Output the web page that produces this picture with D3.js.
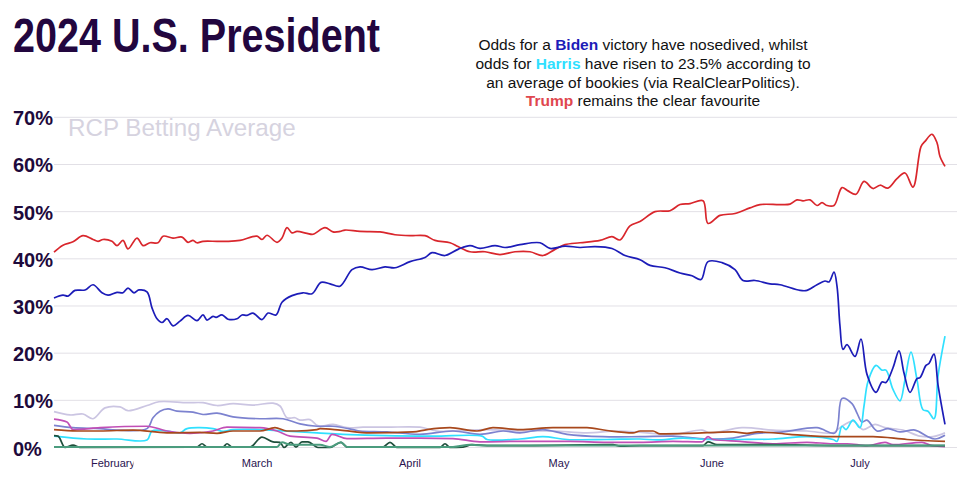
<!DOCTYPE html>
<html>
<head>
<meta charset="utf-8">
<script src="https://d3js.org/d3.v7.min.js"></script>
<style>
  html, body { margin: 0; padding: 0; background: #fff; overflow: hidden; }
</style>
</head>
<body>
<div id="chart"></div>
<script>
// tick labels
var yTicks = [0, 10, 20, 30, 40, 50, 60, 70];
var monthNames = ["February", "March", "April", "May", "June", "July"];
var monthDays = [11.8, 40.6, 71.2, 101, 131.6, 161.2];

// each series is [day, percent]
var trump = [[0,41.4],[1.8,42.9],[3.8,43.6],[5.8,44.9],[7.8,44.1],[8.8,43.7],[9.8,44.1],[11.6,43.7],[12.6,42.8],[13.8,43.9],[14.8,42.1],[16.6,44.4],[17.8,42.8],[19.2,43.4],[20.8,43.4],[21.8,44.8],[23.8,44.4],[25.6,44.6],[26.8,43.5],[27.8,43.9],[28.6,43.4],[29.8,43.7],[32.6,43.7],[34.6,43.7],[37.2,43.9],[40.6,44.8],[41.6,44.1],[42.6,45],[44.6,43.5],[45.6,44.4],[46.6,46.6],[47.6,45.5],[48.6,45.8],[50.6,45.4],[51.8,45.2],[54.2,46.6],[55.8,45.7],[57.2,45.8],[58.2,46.1],[61.2,45.8],[65.2,45.7],[68.2,45.1],[71.2,44.9],[74.2,44.9],[76.2,43.9],[79.2,43.4],[80.8,42.6],[83.2,41.5],[86.2,41.5],[89.2,40.9],[92.2,41.5],[95.2,41.5],[97.8,40.7],[100.2,42],[102.2,43],[105.2,43.4],[109.2,43.9],[111.6,44.7],[113.2,44],[115.2,47],[117.2,47.9],[120.2,50],[123.2,50.2],[125.2,51.5],[127.2,51.7],[129.8,52.3],[130.8,47.5],[133.2,49.2],[136.2,49.6],[139.2,50.8],[141.2,51.5],[145.2,51.5],[147.2,51.6],[148.6,52.5],[149.8,52.3],[151.2,52.5],[152.6,51.3],[153.6,51.9],[154.6,51.3],[156,51.3],[157.6,55.1],[158.8,54.4],[160.4,53.7],[162,56.4],[163.8,54.9],[165.2,55.6],[166.8,55],[168.6,57],[170.2,58.2],[171.8,55.2],[173.4,63.8],[174.2,64.9],[175.6,66.4],[176.6,64.6],[177.2,61.7],[178.2,59.6]];

var biden = [[0,31.7],[1.8,32.3],[2.8,32.1],[4.2,33.3],[6.2,33.4],[7.8,34.5],[9.6,32.8],[10.8,32.3],[12.6,32.9],[13.8,32.8],[14.8,33.8],[16,32.8],[17,33.4],[18.6,33],[19.6,29.6],[20.6,27.3],[21.6,26.5],[22.6,27.3],[23.8,25.8],[25.2,26.8],[26.8,28],[28.6,26.9],[29.8,28.1],[30.6,27],[31.8,27.8],[32.4,27.6],[33.6,28.1],[34.8,27.2],[36.6,27.3],[37.6,28.1],[38.6,28],[39.8,28.5],[41.6,27.1],[42.8,28.5],[44.4,28.1],[45.6,30.8],[47.6,32.2],[49.8,32.8],[51.6,32.6],[53.4,35],[55.2,34.7],[57.2,34.2],[59.6,37.7],[61.2,38.3],[63.6,37.7],[66.2,38.3],[68.2,38.1],[71.2,39.4],[74.2,40.3],[75.6,41.3],[78.2,40.7],[80.8,42],[83.2,42.8],[85.2,42.2],[88.2,42.8],[90.2,42.4],[93.2,43],[97.2,43.4],[99.2,42.2],[102.2,42.7],[105.2,42.4],[108.2,42.6],[111.6,42.2],[114.2,40.7],[117.2,39.8],[119.2,38.6],[122.2,38.1],[125.2,37],[127.6,36.4],[129.4,35.6],[130.8,39.4],[133.6,39.2],[136.2,37.7],[137.8,35.4],[140.2,35.4],[143.2,34.7],[145.2,34.5],[149.2,33.3],[150.6,33.3],[152.6,34.5],[154.2,35.3],[155,35.1],[156,37.2],[156.6,34.2],[157.2,25.7],[157.8,20.8],[158.6,21.8],[160.2,19.3],[161.4,23],[162.6,15.5],[164.4,11.7],[165.6,13.9],[166.4,13.8],[167.8,16.9],[169,20.5],[170,15.8],[171.2,11.7],[172.6,14.6],[173.2,14.8],[174.4,17.4],[175,17.8],[176,19.8],[176.8,13.3],[178.2,4.9]];

var harris = [[0,2.4],[6.6,1.8],[12.6,1.8],[18.6,1.6],[19.6,3.5],[22.6,3.5],[25.2,3.1],[26.6,4],[31.8,4],[33.8,3.4],[35.8,3.8],[41.2,3.8],[45.8,3.5],[52.6,3.1],[57.8,2.8],[66.6,2.5],[75.8,2.4],[85.6,2.4],[86.6,1.7],[93.2,1.8],[97.8,2.3],[102.6,1.7],[110.6,1.7],[117.2,1.8],[120.6,1.6],[125.8,2],[130.6,1.7],[137.2,1.7],[143.8,1.8],[150.6,2.3],[155.8,1.7],[156.6,1.3],[157.6,4.5],[158.4,3.8],[159.8,5.8],[161.2,4.2],[162,8.8],[162.8,14],[164.4,17.4],[165.6,16.4],[166.4,16.4],[167.8,12.3],[169.2,9.9],[170.2,14.4],[171.4,20.2],[172.6,14.4],[173.8,8],[174.8,7.7],[176,6.1],[176.8,15.1],[178.2,23.6]];

var lilac = [[0,7.6],[3.2,6.9],[5.8,7.1],[7.8,6.1],[10.2,8.4],[13.2,8.6],[14.8,7.8],[18.6,8.9],[21,9.7],[26.6,9.5],[29.8,9.5],[32.6,8.9],[35.8,9.3],[39.8,9],[43.8,9.4],[45.2,8.8],[46.6,6.3],[48.2,6.3],[49.2,5.8],[51.2,5.9],[52.6,4.7],[53.2,4.5],[55.8,4.9],[58.6,4.2],[61.8,4.3],[66.6,4.3],[73.2,4.3],[76.6,3.5],[86.6,3.8],[93.2,3.5],[99.8,3.5],[106.6,3.1],[113.2,3.5],[123.8,2.8],[129.6,3.7],[131.2,3.1],[137.6,4.2],[143.8,3.7],[150.6,3.5],[155.8,3.1],[157.2,4.2],[159.8,5.6],[161.8,3.8],[164.2,4.9],[166.2,4.2],[169.8,3.7],[173.2,2.4],[175.8,2.3],[178.2,3.1]];

var periwinkle = [[0,4.7],[3.8,4.2],[9.2,4],[12.6,3.7],[18.6,4],[19.8,6.3],[21.2,7.7],[22.8,8.2],[24.6,7.7],[27.8,7.5],[29.8,7],[32.6,7.3],[35.8,6.5],[41.2,6.1],[45.8,6.1],[49.2,5],[52.6,4.5],[55.8,4.5],[59.8,3.8],[61.2,3.5],[66.6,3.3],[73.2,2.8],[79.8,3.5],[85.2,2.8],[89.8,3.5],[93.2,3.1],[97.8,3.8],[102.6,2.8],[109.8,2.3],[117.2,2.3],[123.8,2.4],[130.6,1.8],[135.8,2],[140.6,3],[145.8,3.3],[152.6,4.2],[156.2,3.1],[157.6,10.4],[159.6,9.3],[160.6,7.3],[161.6,5.4],[162.6,5.8],[164.6,3.5],[166.8,4],[169.2,3.3],[172.2,3.7],[174.6,2.4],[176.2,1.8],[178.2,2.6]];

var magenta = [[0,6],[2.6,5.4],[3.8,3.8],[9.2,4.2],[18.6,4.5],[22.6,3.5],[27.2,3],[31.8,3.5],[34.6,4.3],[41.2,4.2],[44.6,3.5],[47.2,2.4],[52.6,2],[54.4,1.3],[55.6,2.8],[58.6,1.9],[66.6,2],[73.2,2],[79.8,1.9],[85.2,1.2],[93.2,1.3],[103.2,1.3],[110.6,1.1],[117.2,1.1],[123.8,1.3],[129.6,1.2],[130.8,2.3],[131.8,1.7],[137.2,1.3],[143.8,0.8],[150.6,1.1],[155.8,0.8],[158.6,0.8],[162.6,0.4],[166.2,1.1],[167.8,0.6],[173.6,1.1],[175.6,0.4],[178.2,0.2]];

var brown = [[0,3.8],[4.6,3.5],[9.2,3.5],[15.8,3.7],[22.6,3.1],[29.2,3.2],[32.6,3],[35.8,3.5],[41.2,3.5],[44.2,4.2],[46.6,3.5],[48.6,3.5],[52.6,3.8],[53.2,4],[57.2,3.7],[63.2,3.1],[71.8,3.3],[74.6,3.8],[79.2,4.2],[84.6,3.5],[87.8,4.2],[93.2,3.8],[99.8,4.2],[106.6,4.2],[110.6,3.6],[115.8,3.1],[117.2,3.5],[119.8,3.5],[121.2,2.9],[127.2,3],[135.8,3.3],[138.6,3],[140.8,3.3],[147.2,2.8],[155.8,2.3],[163.8,2.3],[170.6,1.7],[178.2,1.3]];

var darkGreen = [[0,2.5],[0.8,2.4],[2.2,0],[3.8,0.5],[5.2,0],[28.6,0.1],[29.6,0.8],[30.6,0.1],[33.8,0.1],[34.6,0.8],[35.6,0.1],[39.2,0.1],[41.6,2.2],[43.8,1.2],[45.2,1.1],[46,0],[47.4,1.1],[48.4,0.1],[49.6,1.2],[50.8,1.2],[52.8,0],[55.2,0],[57.4,1.1],[58.6,0.1],[65.8,0.1],[67.2,1.1],[68.6,0],[77.2,0],[78.2,0.8],[79.2,0],[81.8,0.1],[83.6,0.6],[86.6,0.4],[93.2,0.4],[111.8,0.6],[113.2,0.3],[117.2,0.4],[129.8,0.4],[130.8,1.2],[132.6,0.6],[143.8,0.6],[156.6,0.4],[178.2,0.4]];

var green = [[0,0.1],[44.6,0.1],[45.6,1.1],[47.2,0.6],[53.2,0.6],[55.2,0.1],[57.4,1.1],[58.6,0.1],[79.8,0.1],[83.2,0.6],[86.6,0.4],[178.2,0.4]];

var seriesList = [lilac, periwinkle, harris, magenta, darkGreen, green, brown, trump, biden];
var seriesColors = ["#cbc5e2", "#7c82cf", "#30e0ff", "#c14fb6", "#1f4f3c", "#4b9c7e", "#a8481c", "#d9262c", "#1c1cb8"];
var seriesWidths = [1.7, 1.7, 1.7, 1.7, 1.7, 2, 1.7, 1.7, 1.7];
// the flat low series overshoot below zero with the rounder curve
var seriesCurves = [d3.curveCatmullRom, d3.curveCatmullRom, d3.curveCatmullRom, d3.curveMonotoneX, d3.curveMonotoneX, d3.curveMonotoneX, d3.curveMonotoneX, d3.curveCatmullRom, d3.curveCatmullRom];

var width = 957, height = 483;

var svg = d3.select("#chart").append("svg")
  .attr("width", width)
  .attr("height", height)
  .style("display", "block");

var x = d3.scaleLinear().domain([0, 178.2]).range([54, 945]);
var y = d3.scaleLinear().domain([0, 70]).range([447.5, 117.3]);

// gridlines + y labels
svg.selectAll(".grid").data(yTicks).enter().append("line")
  .attr("class", "grid")
  .attr("x1", 54).attr("x2", width)
  .attr("y1", d => y(d)).attr("y2", d => y(d))
  .attr("stroke", "#e2e0e6").attr("stroke-width", 1);

svg.selectAll(".ylab").data(yTicks).enter().append("text")
  .attr("class", "ylab")
  .attr("x", 13)
  .attr("y", d => y(d) + 8)
  .attr("font-family", "Liberation Sans")
  .attr("font-weight", "bold")
  .attr("font-size", 20)
  .attr("fill", "#1e0a3c")
  .text(d => d + "%");

svg.append("text")
  .attr("x", 68).attr("y", 136)
  .attr("font-family", "Liberation Sans")
  .attr("font-size", 24.2)
  .attr("fill", "#d6d3df")
  .text("RCP Betting Average");

// month labels, February is cut off in the original
svg.append("clipPath").attr("id", "febClip").append("rect")
  .attr("x", 80).attr("y", 450).attr("width", 53.5).attr("height", 25);

svg.selectAll(".month").data(monthNames).enter().append("text")
  .attr("class", "month")
  .attr("x", (d, i) => x(monthDays[i]))
  .attr("y", 467)
  .attr("text-anchor", "middle")
  .attr("font-family", "Liberation Sans")
  .attr("font-size", 11)
  .attr("fill", "#2a1450")
  .attr("clip-path", d => d == "February" ? "url(#febClip)" : null)
  .text(d => d);

// lines
svg.selectAll(".series").data(seriesList).enter().append("path")
  .attr("class", "series")
  .attr("d", (d, i) => d3.line()
    .x(p => x(p[0]))
    .y(p => y(p[1]))
    .curve(seriesCurves[i])(d))
  .attr("fill", "none")
  .attr("stroke", (d, i) => seriesColors[i])
  .attr("stroke-width", (d, i) => seriesWidths[i])
  .attr("stroke-linejoin", "round");

// title
svg.append("text")
  .attr("x", 13).attr("y", 52)
  .attr("font-family", "Liberation Sans")
  .attr("font-weight", "bold")
  .attr("font-size", 48)
  .attr("fill", "#22063f")
  .attr("textLength", 367)
  .attr("lengthAdjust", "spacingAndGlyphs")
  .text("2024 U.S. President");

// note at top right
var noteLines = [
  [["Odds for a ", "#111"], ["Biden", "#1c1cb8", true], [" victory have nosedived, whilst", "#111"]],
  [["odds for ", "#111"], ["Harris", "#30e0ff", true], [" have risen to 23.5% according to", "#111"]],
  [["an average of bookies (via RealClearPolitics).", "#111"]],
  [["Trump", "#e0474f", true], [" remains the clear favourite", "#111"]]
];
var noteY = [50, 69, 88, 106];

noteLines.forEach(function(parts, i) {
  var t = svg.append("text")
    .attr("x", 643).attr("y", noteY[i])
    .attr("text-anchor", "middle")
    .attr("font-family", "Liberation Sans")
    .attr("font-size", 15.5);
  parts.forEach(function(p) {
    t.append("tspan")
      .attr("fill", p[1])
      .attr("font-weight", p[2] ? "bold" : "normal")
      .text(p[0]);
  });
});
</script>
</body>
</html>
